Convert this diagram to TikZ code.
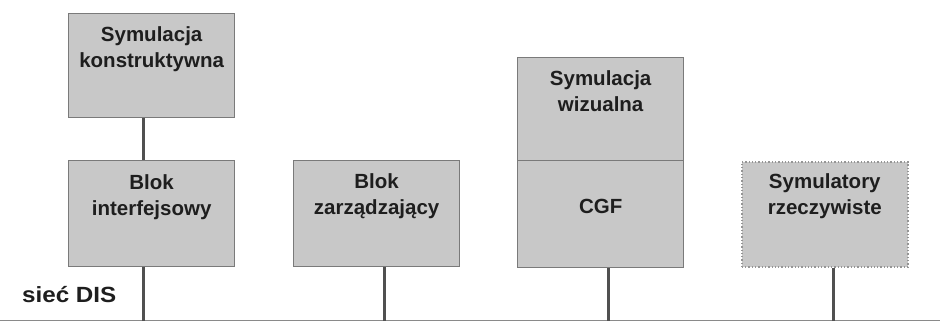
\documentclass[tikz,border=0pt]{standalone}
\usepackage{fontspec}
\setmainfont{Liberation Sans}
\newfontfamily\widefont[FakeStretch=1.1]{Liberation Sans}
\definecolor{boxfill}{HTML}{C8C8C8}
\definecolor{boxline}{HTML}{7A7A7A}
\definecolor{linkcol}{HTML}{505050}
\definecolor{netcol}{HTML}{8A8A8A}
\definecolor{txtcol}{HTML}{1E1E1E}
\begin{document}
\begin{tikzpicture}[x=1pt,y=-1pt,
  blockbox/.style={draw=boxline,line width=1.3pt,fill=boxfill,minimum width=166pt,inner sep=0pt,anchor=north west},
  dotbox/.style={blockbox,draw=boxline!80,dotted,line width=1.6pt},
  blocktext/.style={anchor=north,inner sep=0pt,align=center,text=txtcol,font=\fontsize{20.5}{26}\selectfont\bfseries},
  link/.style={draw=linkcol,line width=2.8pt},
  netline/.style={draw=netcol,line width=1.6pt}]
\useasboundingbox (0,0) rectangle (940,322);
% boxes
\node[blockbox,minimum height=104pt] (b1) at (68,13) {};
\node[blockbox,minimum height=106pt] (b2) at (68,160) {};
\node[blockbox,minimum height=106pt] (b3) at (293,160) {};
\node[blockbox,minimum height=103pt] (b4u) at (517,57) {};
\node[blockbox,minimum height=107pt] (b4l) at (517,160) {};
\node[dotbox,minimum height=105pt] (b5) at (741,161) {};
% texts
\node[blocktext] (t1) at ([yshift=-13.5pt]b1.north) {Symulacja\\konstruktywna};
\node[blocktext] (t2) at ([yshift=-14.5pt]b2.north) {Blok\\interfejsowy};
\node[blocktext] (t3) at ([yshift=-13pt]b3.north) {Blok\\zarządzający};
\node[blocktext] (t4u) at ([yshift=-13pt]b4u.north) {Symulacja\\wizualna};
\node[blocktext] (t4l) at ([yshift=-39pt]b4l.north) {CGF};
\node[blocktext] (t5) at ([yshift=-12pt]b5.north) {Symulatory\\rzeczywiste};
\node[anchor=north west,inner sep=0pt,text=txtcol,font=\fontsize{22}{24}\widefont\bfseries] (net) at (22,286) {sieć DIS};
% network line
\coordinate (nl) at (0,320.5);
\coordinate (nr) at (940,320.5);
\draw[netline] (nl) -- (nr);
% connectors
\draw[link] ([xshift=-8pt]b1.south) -- ([xshift=-8pt]b2.north);
\draw[link] ([xshift=-8pt]b2.south) -- ([xshift=-8pt]b2.south |- nl);
\draw[link] ([xshift=8pt]b3.south) -- ([xshift=8pt]b3.south |- nl);
\draw[link] ([xshift=8pt]b4l.south) -- ([xshift=8pt]b4l.south |- nl);
\draw[link] ([xshift=9pt]b5.south) -- ([xshift=9pt]b5.south |- nl);
\end{tikzpicture}
\end{document}
